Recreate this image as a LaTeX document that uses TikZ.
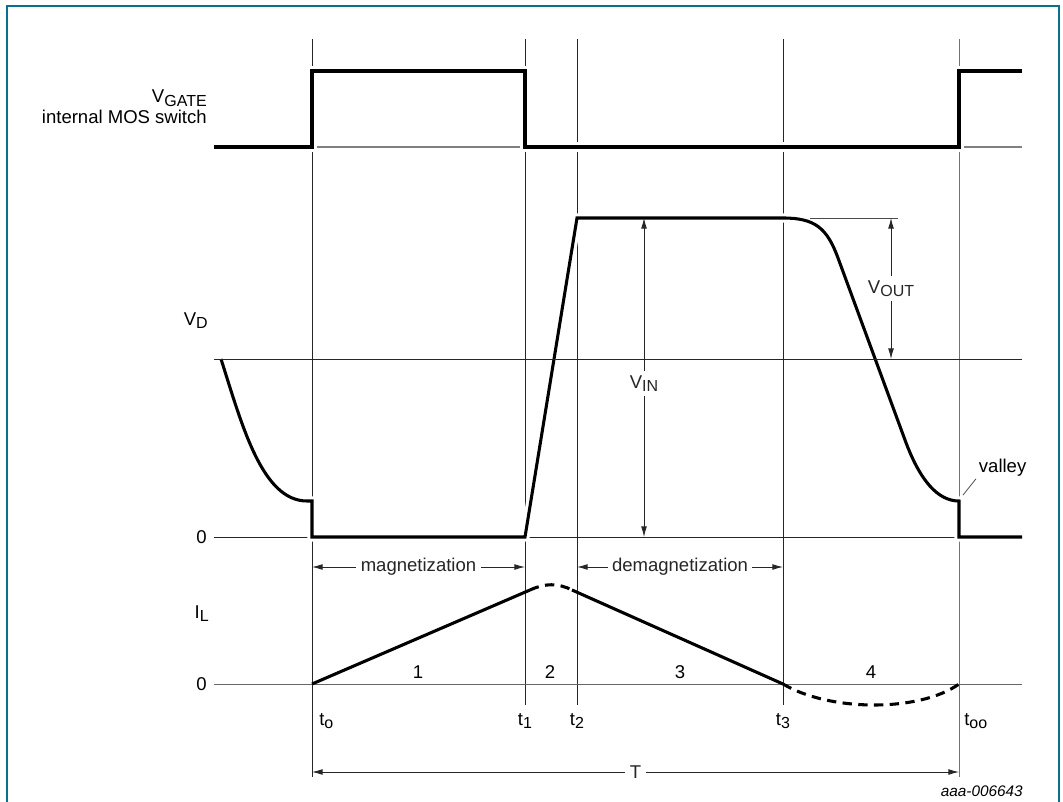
\documentclass[tikz,border=0pt]{standalone}
\usepackage{fontspec}
\setmainfont{Liberation Sans}
\usepackage{xcolor}
\usetikzlibrary{arrows.meta}
\definecolor{frameblue}{RGB}{10,112,140}
\newcommand{\lo}[1]{\raisebox{-2.4pt}{\fontsize{12}{13}\selectfont #1}}

\begin{document}
\begin{tikzpicture}[x=0.75pt, y=-0.75pt,
  font=\fontsize{13.9}{16}\selectfont,
  lbl/.style={inner sep=0pt},
  guide/.style={line width=0.7pt, black!85},
  zeroline/.style={line width=0.75pt, black!85},
  gatebase/.style={line width=1.1pt, black!50},
  sig/.style={line width=2.3pt},
  halo/.style={sig, preaction={draw=white, line width=7pt}},
  dashsig/.style={sig, dash pattern=on 7pt off 4.8pt},
  dimarr/.style={{Latex[length=8pt,width=4.4pt]}-{Latex[length=8pt,width=4.4pt]}, line width=0.65pt, black!85},
  leader/.style={line width=0.6pt, black!70}
]
\useasboundingbox (0,0) rectangle (1063,802);
\draw[frameblue, line width=1.2pt] (7,803) -- (7,6) -- (1059,6) -- (1059,803);

\coordinate (top) at (0,39);
\coordinate (bot) at (0,777);
\coordinate (tick) at (0,705);
\coordinate (xl) at (214,0);
\coordinate (xr) at (1022,0);
\coordinate (t0) at (312,0);
\coordinate (t1) at (525,0);
\coordinate (t2) at (577,0);
\coordinate (t3) at (783,0);
\coordinate (too) at (959,0);
\coordinate (vin) at (644,0);
\coordinate (vout) at (891,0);
\coordinate (gh) at (0,71);
\coordinate (gl) at (0,147);
\coordinate (vh) at (0,218);
\coordinate (vm) at (0,359);
\coordinate (vv) at (0,501);
\coordinate (v0) at (0,537);
\coordinate (mg) at (0,567);
\coordinate (i0) at (0,684);
\coordinate (tt) at (0,772);
\coordinate (ipk1) at (530,590);
\coordinate (ipk2) at (572,590);
\coordinate (vo1) at (810,218);
\coordinate (vo2) at (898,218);
\coordinate (vpt) at (963,495);

\draw[guide] (t0|-top) -- (t0|-bot);
\draw[guide] (t1|-top) -- (t1|-tick);
\draw[guide] (t2|-top) -- (t2|-tick);
\draw[guide] (t3|-top) -- (t3|-tick);
\draw[guide, black!55] (too|-top) -- (too|-bot);

\draw[zeroline] (xl|-v0) -- (xr|-v0);
\draw[zeroline, black!60] (xl|-i0) -- (xr|-i0);
\draw[gatebase] (t0|-gl) -- (t1|-gl);
\draw[gatebase] (too|-gl) -- (xr|-gl);

\draw[halo] (xl|-gl) -- (t0|-gl) -- (t0|-gh) -- (t1|-gh) -- (t1|-gl) -- (too|-gl) -- (too|-gh) -- (xr|-gh);
\draw[halo] (221,359) .. controls (242,425) and (262,501) .. (307,501) -- (t0|-vv) -- (t0|-v0) -- (t1|-v0) -- (t2|-vh) -- (t3|-vh)
  .. controls (815,218) and (827,228) .. (838,258) -- (905,440) .. controls (920,481) and (938,501) .. (too|-vv) -- (too|-v0) -- (xr|-v0);

\draw[sig] (t0|-i0) -- (ipk1);
\draw[dashsig] (ipk1) .. controls (545,583) and (558,583) .. (ipk2);
\draw[sig] (ipk2) -- (t3|-i0);
\draw[dashsig] (t3|-i0) .. controls (830,712) and (920,712) .. (too|-i0);

\draw[zeroline] (xl|-vm) -- (xr|-vm);

\draw[dimarr] (vin|-vh) -- node[fill=white, pos=0.52] (vinl) {V\lo{IN}} (vin|-v0);
\draw[leader] (vo1) -- (vo2);
\draw[dimarr] (vout|-vh) -- node[fill=white] (voutl) {V\lo{OUT}} (vout|-vm);
\draw[dimarr] (t0|-mg) -- node[fill=white] (mag) {magnetization} (t1|-mg);
\draw[dimarr] (t2|-mg) -- node[fill=white] (demag) {demagnetization} (t3|-mg);
\draw[dimarr] (t0|-tt) -- node[fill=white] (period) {T} (too|-tt);

\node[lbl, anchor=base east] (vgate) at (207,103) {V\lo{GATE}};
\node[lbl, anchor=base east] (mos) at (207,124) {internal MOS switch};
\node[lbl, anchor=base east] (vd) at (208,325) {V\lo{D}};
\node[lbl, anchor=east] (vzero) at (207,537) {0};
\node[lbl, anchor=base east] (il) at (209,618) {I\lo{L}};
\node[lbl, anchor=east] (izero) at (207,684) {0};

\node[anchor=base] (s1) at (418,678) {1};
\node[anchor=base] (s2) at (550,678) {2};
\node[anchor=base] (s3) at (680,678) {3};
\node[anchor=base] (s4) at (871,678) {4};

\node[lbl, anchor=base west] (lt0) at (319,725) {t\lo{o}};
\node[lbl, anchor=base] (lt1) at (525,725) {t\lo{1}};
\node[lbl, anchor=base] (lt2) at (577,725) {t\lo{2}};
\node[lbl, anchor=base] (lt3) at (783,725) {t\lo{3}};
\node[lbl, anchor=base west] (ltoo) at (964,725) {t\lo{oo}};

\node[anchor=base west, inner sep=2pt] (valley) at (976,472) {valley};
\draw[leader] (vpt) -- (valley.south west);

\node[lbl, anchor=east, font=\fontsize{11.5}{13}\selectfont\itshape] (code) at (1023,791) {aaa-006643};
\end{tikzpicture}
\end{document}
